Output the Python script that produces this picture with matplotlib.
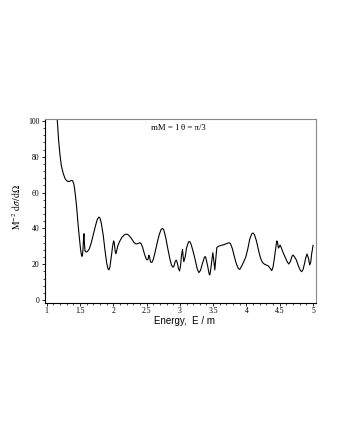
import matplotlib
matplotlib.use("Agg")
import matplotlib.pyplot as plt
from matplotlib.ticker import MultipleLocator

energy = [1.14, 1.16, 1.18, 1.20, 1.22, 1.25, 1.28, 1.31, 1.34, 1.37, 1.39, 1.41, 1.43, 1.45, 1.47,
          1.49, 1.51, 1.525, 1.535, 1.545, 1.555, 1.56, 1.565, 1.575, 1.59, 1.61, 1.64, 1.67, 1.70,
          1.73, 1.76, 1.785, 1.80, 1.82, 1.85, 1.875, 1.90, 1.92, 1.935, 1.95, 1.97, 1.99, 2.005,
          2.015, 2.03, 2.04, 2.055, 2.07, 2.10, 2.13, 2.17, 2.20, 2.23, 2.27, 2.31, 2.34, 2.37,
          2.40, 2.42, 2.44, 2.47, 2.50, 2.52, 2.535, 2.545, 2.56, 2.58, 2.60, 2.63, 2.66, 2.69,
          2.72, 2.74, 2.76, 2.79, 2.82, 2.85, 2.875, 2.895, 2.91, 2.93, 2.945, 2.96, 2.98, 2.995,
          3.01, 3.025, 3.04, 3.05, 3.06, 3.08, 3.10, 3.13, 3.15, 3.17, 3.20, 3.23, 3.26, 3.285,
          3.31, 3.34, 3.37, 3.385, 3.40, 3.42, 3.44, 3.45, 3.46, 3.48, 3.495, 3.51, 3.525, 3.54,
          3.555, 3.58, 3.62, 3.66, 3.70, 3.74, 3.76, 3.79, 3.82, 3.85, 3.88, 3.90, 3.93, 3.96,
          3.99, 4.02, 4.05, 4.08, 4.10, 4.12, 4.15, 4.18, 4.21, 4.24, 4.27, 4.30, 4.33, 4.36,
          4.38, 4.40, 4.42, 4.44, 4.455, 4.465, 4.48, 4.49, 4.505, 4.52, 4.55, 4.58, 4.61, 4.635,
          4.66, 4.685, 4.70, 4.72, 4.75, 4.78, 4.81, 4.83, 4.85, 4.87, 4.89, 4.91, 4.93, 4.95,
          4.965, 4.98, 4.99, 5.00]
cross_section = [108, 100, 89, 81, 75, 70.5, 67.5, 66.3, 66.2, 66.8, 66.6, 64.5, 59, 52, 43,
                 35, 28, 24.5, 24.5, 28, 35, 37, 33, 27.5, 26.8, 27, 28.5, 32, 36.5,
                 41, 45, 46.3, 45.8, 43, 36, 28, 21, 17.5, 16.8, 18.5, 24, 30, 33,
                 32, 27, 25.8, 28, 30.5, 33, 35, 36.5, 36.8, 36.3, 34.5, 32.2, 31.3, 31.5,
                 32, 31.3, 29.5, 25.5, 22.5, 22.5, 25, 24, 21.2, 21, 22.5, 27, 32, 36.5,
                 39.5, 40, 39, 34.5, 28.5, 23, 19.5, 18.3, 18.8, 21.5, 22.3, 21, 17.5, 16.2,
                 19, 25, 28.3, 24, 21.4, 24, 29, 32.5, 32.6, 31, 27, 22.5, 17.5, 15.3,
                 16.5, 20.5, 24, 24.2, 22, 18.5, 14.5, 14, 16, 22, 26.4, 22, 16.8, 23,
                 29.3, 30, 30.5, 30.9, 31.5, 32, 31.5, 28.5, 24, 20, 17.5, 17.1, 19, 21.5,
                 24, 28.5, 34, 37, 37.4, 36.5, 33, 28, 23.5, 21, 20, 19.5, 19, 17.5,
                 16.4, 18.5, 23.5, 29, 33, 32.5, 29, 29.5, 30.7, 29.5, 26.5, 24, 21.5, 20.1,
                 21.5, 24.5, 25.1, 24.2, 22.3, 19, 16.5, 15.8, 17, 20, 23.5, 25.7, 23.5, 19.6,
                 21, 26, 28, 30.5]

x_ticks = [1, 1.5, 2, 2.5, 3, 3.5, 4, 4.5, 5]
x_tick_labels = ["1", "1.5", "2", "2.5", "3", "3.5", "4", "4.5", "5"]
y_ticks = [0, 20, 40, 60, 80, 100]

plt.rcParams['mathtext.fontset'] = 'stix'
serif = 'Liberation Serif'

fig = plt.figure(figsize=(3.4, 4.4), dpi=100)
ax = fig.add_axes([45/340, 1 - 302.5/440, (315.7 - 45)/340, (302.5 - 119.5)/440])
ax.plot(energy, cross_section, color='black', lw=0.8)
ax.set_xlim(0.975, 5.04)
ax.set_ylim(-1.4, 100.8)

ax.set_xticks(x_ticks)
ax.set_xticklabels(x_tick_labels, family=serif, fontsize=5.5)
ax.set_yticks(y_ticks)
ax.set_yticklabels([str(v) for v in y_ticks], family=serif, fontsize=5.5)
ax.xaxis.set_minor_locator(MultipleLocator(0.1))
ax.yaxis.set_minor_locator(MultipleLocator(4))
ax.tick_params(which='major', length=2.5, width=0.6, direction='out')
ax.tick_params(axis='x', which='major', pad=0.5)
ax.tick_params(axis='y', which='major', pad=1.5)
ax.tick_params(which='minor', length=1.5, width=0.5, direction='out')

for side in ('left', 'bottom'):
    ax.spines[side].set_color('black')
    ax.spines[side].set_linewidth(0.8)
for side in ('top', 'right'):
    ax.spines[side].set_color('#888888')
    ax.spines[side].set_linewidth(0.8)

fig.text(185/340, 1 - 321/440, 'Energy,  E / m', ha='center', va='center',
         family='Liberation Sans', fontsize=7)
fig.text(17/340, 1 - 207/440, r'$\mathrm{M}^{-2}\ \mathrm{d}\sigma/\mathrm{d}\Omega$',
         rotation=90, ha='center', va='center', fontsize=7)
fig.text(151/340, 1 - 128/440, 'mM = 1', ha='left', va='center', family=serif, fontsize=6.3)
fig.text(181/340, 1 - 128/440, 'θ = π/3', ha='left', va='center', family=serif, fontsize=6.3)

fig.savefig('out.png', dpi=100)
